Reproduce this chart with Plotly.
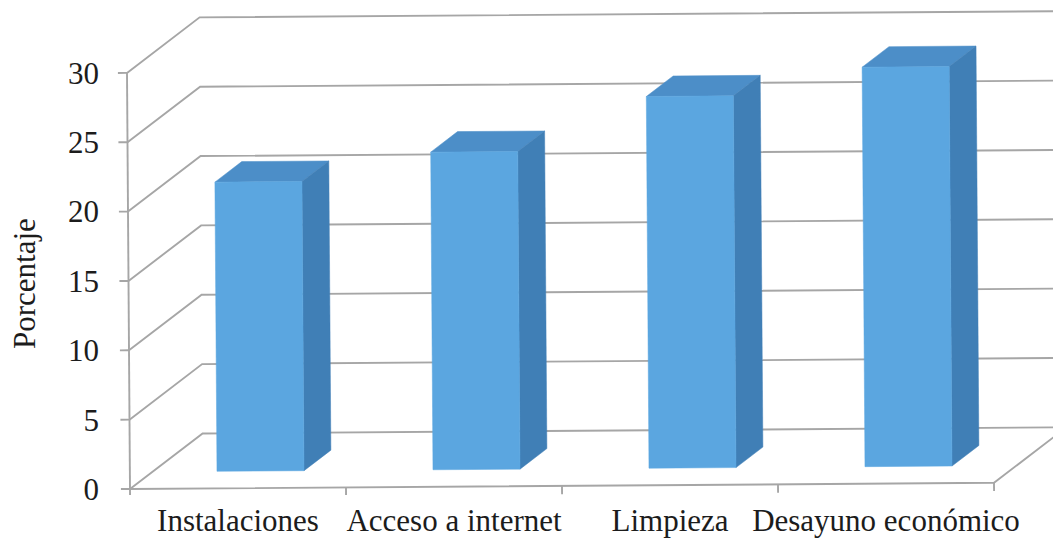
import plotly.graph_objects as go

categories = ["Instalaciones", "Acceso a internet", "Limpieza", "Desayuno económico"]
values = [20.85, 22.9, 26.8, 28.8]
y_ticks = [0, 5, 10, 15, 20, 25, 30]
y_title = "Porcentaje"

# pixel scale of one axis unit, used for the oblique projection
PX_CAT, PX_VAL = 216.0, 13.87
DEPTH_X, DEPTH_Y = 73.0, 55.0   # wall depth, px
TILT = 0.0072                   # slight rotation of the scanned page
BAR_W, D0, D1 = 0.403, 0.31, 0.68
TICK_C, TICK_V = 0.042, 0.6


def proj(c, v, d=0.0):
    px = c * PX_CAT + d * DEPTH_X
    py = v * PX_VAL + d * DEPTH_Y
    return (px - TILT * py) / PX_CAT, (py + TILT * px) / PX_VAL


def path(points):
    xs, ys = zip(*(proj(*p) for p in points))
    return list(xs), list(ys)


def line(points, color, width):
    x, y = path(points)
    return go.Scatter(x=x, y=y, mode="lines", line=dict(color=color, width=width),
                      hoverinfo="skip", showlegend=False)


def face(points, color):
    x, y = path(points + points[:1])
    return go.Scatter(x=x, y=y, mode="lines", fill="toself", fillcolor=color,
                      line=dict(color=color, width=0.5), hoverinfo="skip", showlegend=False)


fig = go.Figure()
GRID = "#a6a6a6"
LW = 1.9
n = len(categories)
far = n + 1
for v in y_ticks:
    fig.add_trace(line([(0, v, 0), (0, v, 1), (far, v, 1)], GRID, LW))
    fig.add_trace(line([(-TICK_C, v, 0), (0, v, 0)], GRID, LW))
fig.add_trace(line([(0, 0, 0), (0, y_ticks[-1], 0)], GRID, LW))
fig.add_trace(line([(0, 0, 0), (n, 0, 0), (n, 0, 1)], GRID, LW))
for c in range(n + 1):
    fig.add_trace(line([(c, 0, 0), (c, -TICK_V, 0)], GRID, LW))

for i, val in enumerate(values):
    a, b = i + 0.5 - BAR_W / 2, i + 0.5 + BAR_W / 2
    fig.add_trace(face([(a, val, D0), (b, val, D0), (b, val, D1), (a, val, D1)], "#4c8ec8"))
    fig.add_trace(face([(b, 0, D0), (b, val, D0), (b, val, D1), (b, 0, D1)], "#407fb6"))
    fig.add_trace(face([(a, 0, D0), (b, 0, D0), (b, val, D0), (a, val, D0)], "#5ba6e0"))

W, H = 1053, 541
ML, MB = 110, 46
fig.update_layout(
    width=None, height=None, autosize=True,
    margin=dict(l=ML, r=0, t=0, b=MB, pad=0),
    paper_bgcolor="#ffffff", plot_bgcolor="#ffffff",
    font=dict(family="Liberation Serif", size=31, color="#1c1c1c"),
    showlegend=False,
    xaxis=dict(range=[(ML - 130) / PX_CAT, (W - 130) / PX_CAT],
               tickmode="array", tickvals=[i + 0.5 for i in range(n)], ticktext=categories,
               showgrid=False, zeroline=False, showline=False, ticks="", fixedrange=True,
               automargin=False, ticklabelstandoff=4),
    yaxis=dict(range=[(489 - (H - MB)) / PX_VAL, 489 / PX_VAL],
               tickmode="array", tickvals=y_ticks, ticktext=[str(t) for t in y_ticks],
               showgrid=False, zeroline=False, showline=False, ticks="", fixedrange=True,
               automargin=False, ticklabelstandoff=10),
    annotations=[dict(text=y_title, textangle=-90, showarrow=False,
                      xref="paper", yref="paper", xanchor="center", yanchor="middle",
                      x=(25 - ML) / (W - ML), y=(H - MB - 284) / (H - MB),
                      font=dict(size=31))],
)
fig.write_html("out.html", config=dict(displayModeBar=False), default_width="100%", default_height="100%")
html = open("out.html", encoding="utf-8").read()
html = html.replace("<head>", "<head><style>html,body{margin:0;padding:0;height:100%;overflow:hidden}</style>", 1)
open("out.html", "w", encoding="utf-8").write(html)
